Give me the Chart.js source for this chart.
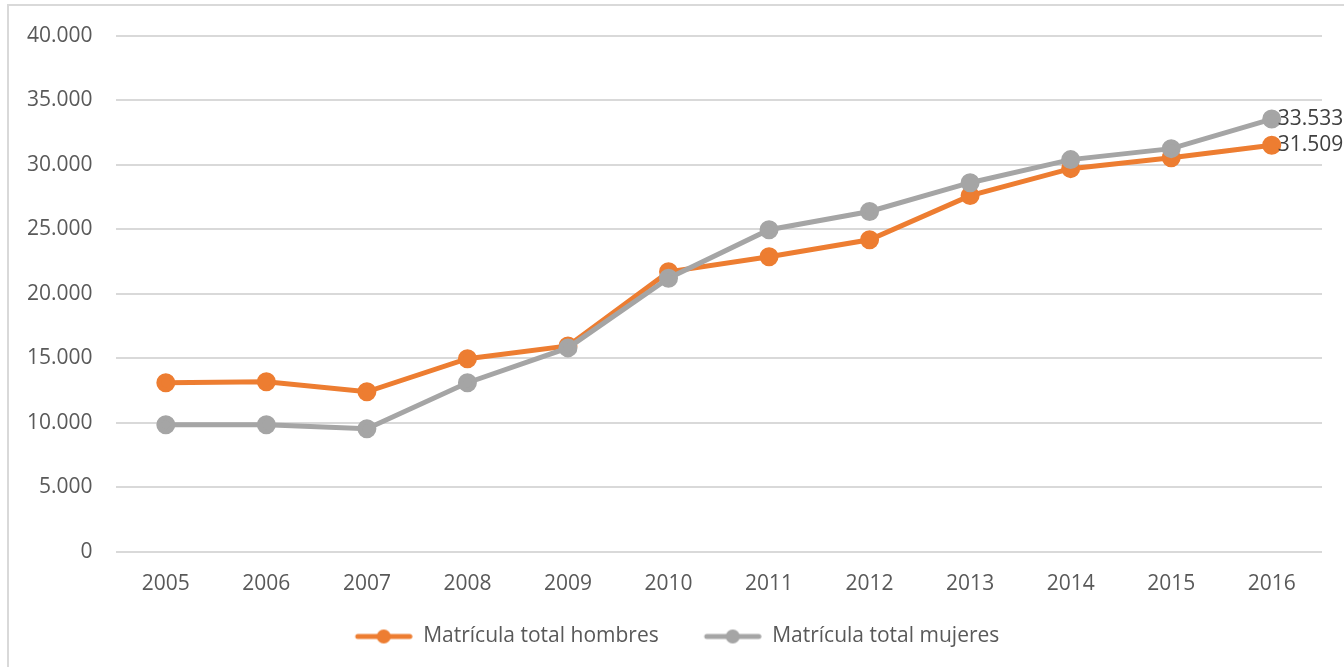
<!DOCTYPE html>
<html>
<head>
<meta charset="utf-8">
<script src="https://cdn.jsdelivr.net/npm/chart.js@4/dist/chart.umd.min.js"></script>
<style>
  html, body { margin: 0; padding: 0; background: #fff; overflow: hidden; }
  #frame {
    position: absolute; left: 7px; top: 4px; width: 1400px; height: 740px;
    border: 2px solid #d9d9d9; box-sizing: border-box;
  }
  #wrap { position: absolute; left: 0; top: 0; width: 1344px; height: 657px; }
</style>
</head>
<body>
<div id="frame"></div>
<div id="wrap"><canvas id="chart"></canvas></div>
<script>
const years = ['2005', '2006', '2007', '2008', '2009', '2010', '2011', '2012', '2013', '2014', '2015', '2016'];
const hombres = [13100, 13180, 12400, 14960, 15950, 21700, 22870, 24180, 27600, 29690, 30540, 31509];
const mujeres = [9850, 9850, 9530, 13100, 15800, 21200, 24960, 26370, 28600, 30390, 31240, 33533];
const seriesNames = ['Matrícula total hombres', 'Matrícula total mujeres'];

const ORANGE = '#ED7D31';
const GRAY = '#A5A5A5';
const FONT = "'Open Sans', sans-serif";
const SWATCH_GAP = 28; // empty room left of the legend swatch

const fmt = v => String(v).replace(/\B(?=(\d{3})+(?!\d))/g, '.');

// line + marker swatch for the legend, like the Excel one
const makeSwatch = (color) => {
  const c = document.createElement('canvas');
  c.width = SWATCH_GAP + 58; c.height = 16;
  const g = c.getContext('2d');
  const x0 = SWATCH_GAP;
  g.strokeStyle = color;
  g.lineWidth = 5;
  g.lineCap = 'round';
  g.beginPath(); g.moveTo(x0 + 3, 8); g.lineTo(x0 + 55, 8); g.stroke();
  g.fillStyle = color;
  g.beginPath(); g.arc(x0 + 29, 8, 7, 0, Math.PI * 2); g.fill();
  return c;
};

// value label right of the last point of each series
const lastLabels = {
  id: 'lastLabels',
  afterDatasetsDraw(chart) {
    const ctx = chart.ctx;
    ctx.save();
    ctx.font = '21px ' + FONT;
    ctx.fillStyle = '#404040';
    ctx.textAlign = 'left';
    ctx.textBaseline = 'middle';
    chart.data.datasets.forEach((ds, i) => {
      const pts = chart.getDatasetMeta(i).data;
      const p = pts[pts.length - 1];
      ctx.fillText(fmt(ds.data[ds.data.length - 1]), p.x + 6, p.y);
    });
    ctx.restore();
  }
};

const ctx = document.getElementById('chart').getContext('2d');
new Chart(ctx, {
  type: 'line',
  data: {
    labels: years,
    datasets: [
      {
        label: seriesNames[0],
        data: hombres,
        borderColor: ORANGE,
        backgroundColor: ORANGE,
        borderWidth: 5,
        pointRadius: 7,
        pointHoverRadius: 7,
        fill: false,
        tension: 0,
        order: 1
      },
      {
        label: seriesNames[1],
        data: mujeres,
        borderColor: GRAY,
        backgroundColor: GRAY,
        borderWidth: 5,
        pointRadius: 7,
        pointHoverRadius: 7,
        fill: false,
        tension: 0,
        order: 0 // gray sits on top, as in the original
      }
    ]
  },
  options: {
    responsive: true,
    maintainAspectRatio: false,
    animation: false,
    layout: { padding: { left: 4, right: 22, top: 22, bottom: 0 } },
    scales: {
      x: {
        offset: true,
        grid: { display: false },
        border: { display: false },
        ticks: { color: '#595959', font: { family: FONT, size: 21 }, padding: 12 }
      },
      y: {
        min: 0,
        max: 40000,
        grid: { color: '#d9d9d9', lineWidth: 2, drawTicks: false },
        border: { display: false },
        ticks: {
          stepSize: 5000,
          color: '#595959',
          font: { family: FONT, size: 21 },
          padding: 23,
          callback: v => fmt(v)
        }
      }
    },
    plugins: {
      legend: {
        position: 'bottom',
        labels: {
          color: '#595959',
          font: { family: FONT, size: 21 },
          usePointStyle: true,
          pointStyleWidth: SWATCH_GAP + 58,
          padding: 17,
          generateLabels: (chart) => chart.data.datasets.map((ds, i) => ({
            text: ds.label,
            pointStyle: makeSwatch(ds.borderColor),
            fillStyle: ds.borderColor,
            strokeStyle: ds.borderColor,
            lineWidth: 0,
            fontColor: '#595959',
            datasetIndex: i
          }))
        }
      },
      tooltip: { enabled: false }
    }
  },
  plugins: [lastLabels]
});
</script>
</body>
</html>
